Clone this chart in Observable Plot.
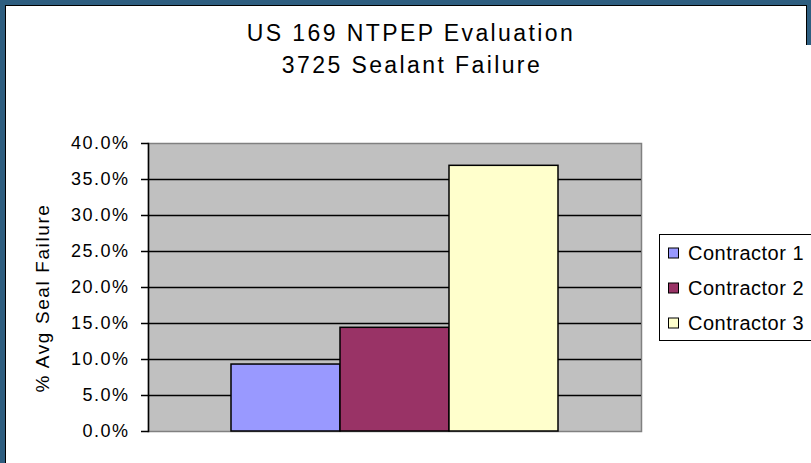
<!DOCTYPE html>
<html>
<head>
<meta charset="utf-8">
<script src="https://cdn.jsdelivr.net/npm/d3@7"></script>
<script src="https://cdn.jsdelivr.net/npm/@observablehq/plot@0.6"></script>
<style>
  html, body { margin: 0; padding: 0; }
  body { width: 811px; height: 463px; overflow: hidden; background: #2e5e80; position: relative; font-family: "Liberation Sans", Arial, sans-serif; }
  #frame { position: absolute; left: 5px; top: 5px; width: 800px; height: 600px; background: #fff; border: 1px solid #000; }
  #cover { position: absolute; left: 6px; top: 45px; width: 805px; height: 500px; background: #fff; }
  #chart { position: absolute; left: 0; top: 0; }
  #chart svg { overflow: visible; }
  .ytick text { letter-spacing: 1.5px; }
</style>
</head>
<body>
<div id="frame"></div>
<div id="cover"></div>
<div id="chart"></div>
<script>
const categories = ["Contractor 1", "Contractor 2", "Contractor 3"];
const values = [9.3, 14.4, 36.9];
const colors = ["#9999FF", "#993366", "#FFFFCC"];
const yTicks = [0, 5, 10, 15, 20, 25, 30, 35, 40];
const titleLines = ["US 169 NTPEP Evaluation", "3725 Sealant Failure"];
const yLabel = "% Avg Seal Failure";

const data = categories.map((name, i) => ({ name, value: values[i], color: colors[i] }));

const plot = Plot.plot({
  width: 811,
  height: 463,
  marginLeft: 148,
  marginRight: 170,
  marginTop: 143,
  marginBottom: 32,
  style: { background: "transparent", fontFamily: "'Liberation Sans', Arial, sans-serif", color: "black" },
  x: { domain: categories, paddingInner: 0, paddingOuter: 0.741, axis: null },
  y: { domain: [0, 40] },
  color: { type: "identity" },
  marks: [
    Plot.frame({ fill: "#c0c0c0", stroke: "#808080", strokeWidth: 1.5 }),
    Plot.ruleY(yTicks.filter(d => d > 0 && d < 40), { stroke: "black", strokeWidth: 1.5 }),
    Plot.barY(data, { x: "name", y: "value", fill: "color", stroke: "black", strokeWidth: 1.5 }),
    Plot.frame({ anchor: "left", stroke: "black", strokeWidth: 1.5 }),
    Plot.axisY({
      ticks: yTicks,
      tickSize: 7,
      tickPadding: 12,
      tickFormat: d => d.toFixed(1) + "%",
      fontSize: 18,
      strokeWidth: 1.5,
      label: null,
      className: "ytick"
    })
  ]
});

document.getElementById("chart").appendChild(plot);

const svg = d3.select(plot);
const font = "'Liberation Sans', Arial, sans-serif";

// Title
titleLines.forEach((t, i) => {
  svg.append("text")
    .attr("x", 411 + i).attr("y", 41 + i * 32)
    .attr("text-anchor", "middle")
    .attr("font-family", font).attr("font-size", 23)
    .style("letter-spacing", "2.4px")
    .attr("fill", "black")
    .text(t);
});

// Y axis label
svg.append("text")
  .attr("transform", "translate(49,298) rotate(-90)")
  .attr("text-anchor", "middle")
  .attr("font-family", font).attr("font-size", 19)
  .style("letter-spacing", "1.6px")
  .attr("fill", "black")
  .text(yLabel);

// Legend
const lg = svg.append("g");
lg.append("rect")
  .attr("x", 659.5).attr("y", 234.5).attr("width", 160).attr("height", 106)
  .attr("fill", "white").attr("stroke", "black").attr("stroke-width", 1);
categories.forEach((c, i) => {
  const cy = 253 + i * 35;
  lg.append("rect")
    .attr("x", 668.5).attr("y", cy - 5).attr("width", 10).attr("height", 10)
    .attr("fill", colors[i]).attr("stroke", "black").attr("stroke-width", 1);
  lg.append("text")
    .attr("x", 688).attr("y", cy + 7)
    .attr("text-anchor", "start")
    .attr("font-family", font).attr("font-size", 20)
    .style("letter-spacing", "0.5px")
    .attr("fill", "black")
    .text(c);
});
</script>
</body>
</html>
